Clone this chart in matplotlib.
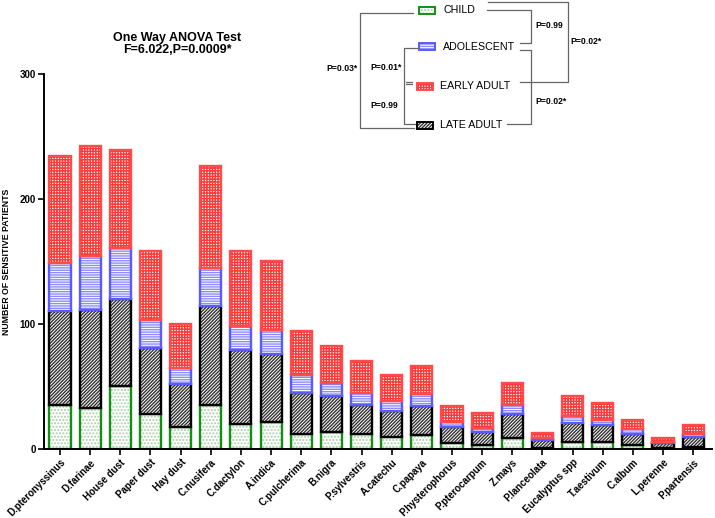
import numpy as np
import matplotlib.pyplot as plt
from matplotlib.patches import Rectangle

plt.rcParams['font.family'] = ['Liberation Sans', 'DejaVu Sans']
plt.rcParams['hatch.linewidth'] = 1.0

allergens = ['D.pteronyssinus', 'D.farinae', 'House dust', 'Paper dust', 'Hay dust',
             'C.nusifera', 'C.dactylon', 'A.indica', 'C.pulcherima', 'B.nigra',
             'P.sylvestris', 'A.catechu', 'C.papaya', 'P.hysterophorus', 'P.pterocarpum',
             'Z.mays', 'P.lanceolata', 'Eucalyptus spp', 'T.aestivum', 'C.album',
             'L.perenne', 'P.partensis']

# stacked from the bottom: child, late adult, adolescent, early adult
child = [35, 33, 50, 28, 18, 35, 20, 22, 12, 14, 12, 10, 11, 5, 3, 9, 1, 6, 6, 3, 1, 2]
late_adult = [75, 78, 70, 53, 34, 79, 59, 54, 33, 28, 23, 20, 23, 13, 11, 19, 6, 15, 13, 9, 4, 8]
adolescent = [39, 43, 41, 22, 13, 31, 19, 19, 14, 11, 10, 8, 10, 4, 3, 7, 2, 5, 4, 4, 1, 2]
early_adult = [85, 88, 78, 55, 35, 81, 60, 55, 35, 29, 25, 21, 22, 12, 12, 18, 4, 16, 14, 7, 3, 7]

y_ticks = [0, 100, 200, 300]

# name: (values, border, hatch colour, hatch, face)
styles = {
    'CHILD': (child, '#129012', '#a8cfa8', '.....', 'white'),
    'LATE ADULT': (late_adult, '#000000', '#333333', '/' * 10, 'white'),
    'ADOLESCENT': (adolescent, '#5a5aff', '#8c8cff', '-' * 7, 'white'),
    'EARLY ADULT': (early_adult, '#ff4b4b', '#ff3838', '+' * 6, 'white'),
}

fig = plt.figure(figsize=(7.15, 5.18), dpi=100)
ax = fig.add_axes([0.062, 0.1332, 0.934, 0.724])

x = np.arange(len(allergens))
w = 0.7
bottom = np.zeros(len(allergens))
for name in ['CHILD', 'LATE ADULT', 'ADOLESCENT', 'EARLY ADULT']:
    vals, edge, hcol, hatch, face = styles[name]
    vals = np.array(vals)
    ax.bar(x, vals, w, bottom=bottom, color=face, edgecolor=hcol, hatch=hatch, linewidth=0)
    ax.bar(x, vals, w, bottom=bottom, fill=False, edgecolor=edge, linewidth=1.7)
    bottom += vals

ax.set_xlim(-0.52, len(allergens) - 1 + 0.63)
ax.set_ylim(0, 300)
ax.set_yticks(y_ticks)
ax.set_yticklabels([str(t) for t in y_ticks], fontsize=7, fontweight='bold')
ax.set_xticks(x)
ax.set_xticklabels(allergens, rotation=45, ha='right', rotation_mode='anchor',
                   fontsize=7, fontweight='bold')
ax.tick_params(axis='both', length=4, width=1.2, pad=2)
for s in ['top', 'right']:
    ax.spines[s].set_visible(False)
for s in ['left', 'bottom']:
    ax.spines[s].set_linewidth(1.4)
ax.set_ylabel('NUMBER OF SENSITIVE PATIENTS', fontsize=6.3, fontweight='bold', labelpad=6)

fig.text(0.248, 0.915, 'One Way ANOVA Test\nF=6.022,P=0.0009*', ha='center', va='center',
         fontsize=9, fontweight='bold', linespacing=1.0)

# custom legend with p-value brackets, in pixel coordinates
lg = fig.add_axes([0, 0, 1, 1])
lg.set_xlim(0, 715)
lg.set_ylim(518, 0)
lg.axis('off')
lg.patch.set_visible(False)

leg_items = [('CHILD', 419, 10, 443), ('ADOLESCENT', 419, 46.5, 443),
             ('EARLY ADULT', 416.5, 86, 440), ('LATE ADULT', 416.5, 125, 440)]
for name, px, py, tx in leg_items:
    vals, edge, hcol, hatch, face = styles[name]
    lg.add_patch(Rectangle((px, py - 3.5), 16, 7, facecolor=face, edgecolor=hcol,
                           hatch=hatch, linewidth=0))
    lg.add_patch(Rectangle((px, py - 3.5), 16, 7, fill=False, edgecolor=edge, linewidth=1.4))
    lg.text(tx, py, name, fontsize=7.7, va='center', ha='left')

gc = '#666666'
lw = 0.9
# left outer bracket: CHILD - LATE ADULT
lg.plot([413, 360, 360, 414], [13.3, 13.3, 127.7, 127.7], color=gc, lw=lw)
# left inner bracket: ADOLESCENT - LATE ADULT
lg.plot([418, 404.3, 404.3, 415], [47.7, 47.7, 124, 124], color=gc, lw=lw)
lg.plot([406, 411.7], [82.2, 82.2], color=gc, lw=lw)
lg.plot([406, 411.7], [84.3, 84.3], color=gc, lw=lw)
# right brackets
lg.plot([486.7, 531, 531, 520], [10, 10, 43.3, 43.3], color=gc, lw=lw)
lg.plot([520, 531, 531, 506.7], [50, 50, 124, 124], color=gc, lw=lw)
lg.plot([487.7, 567.7, 567.7, 520], [1.7, 1.7, 81.7, 81.7], color=gc, lw=lw)

pk = dict(fontsize=6.2, fontweight='bold', va='center')
lg.text(358, 68.3, 'P=0.03*', ha='right', **pk)
lg.text(370, 68, 'P=0.01*', ha='left', **pk)
lg.text(370, 105, 'P=0.99', ha='left', **pk)
lg.text(535, 25, 'P=0.99', ha='left', **pk)
lg.text(535, 101, 'P=0.02*', ha='left', **pk)
lg.text(570, 41, 'P=0.02*', ha='left', **pk)

fig.savefig('out.png', dpi=100)
